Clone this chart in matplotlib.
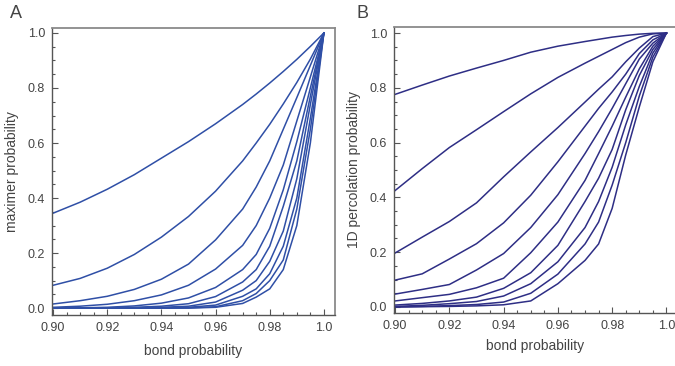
import matplotlib
matplotlib.use('Agg')
import matplotlib.pyplot as plt
from matplotlib.ticker import MultipleLocator, FixedLocator

plt.rcParams['font.family'] = ['Liberation Sans', 'DejaVu Sans']

# shared sample points of bond probability
bond = [0.90, 0.91, 0.92, 0.93, 0.94, 0.95, 0.96, 0.97, 0.975, 0.98, 0.985, 0.99, 0.995, 1.0]

# panel A: maximer probability, one list per curve
maxA1 = [0.345, 0.385, 0.432, 0.485, 0.545, 0.605, 0.670, 0.740, 0.778, 0.818, 0.860, 0.904, 0.951, 1.0]
maxA2 = [0.083, 0.108, 0.145, 0.195, 0.258, 0.333, 0.425, 0.535, 0.600, 0.668, 0.742, 0.820, 0.905, 1.0]
maxA3 = [0.015, 0.027, 0.043, 0.068, 0.105, 0.160, 0.248, 0.360, 0.440, 0.535, 0.650, 0.765, 0.882, 1.0]
maxA4 = [0.003, 0.007, 0.014, 0.027, 0.048, 0.083, 0.142, 0.228, 0.300, 0.400, 0.520, 0.680, 0.840, 1.0]
maxA5 = [0.0005, 0.001, 0.003, 0.008, 0.018, 0.037, 0.075, 0.140, 0.195, 0.290, 0.430, 0.605, 0.800, 1.0]
maxA6 = [0.0, 0.0, 0.001, 0.003, 0.007, 0.016, 0.042, 0.095, 0.140, 0.225, 0.370, 0.535, 0.770, 1.0]
maxA7 = [0.0, 0.0, 0.0, 0.001, 0.003, 0.007, 0.022, 0.065, 0.100, 0.170, 0.280, 0.470, 0.740, 1.0]
maxA8 = [0.0, 0.0, 0.0, 0.0, 0.001, 0.003, 0.011, 0.043, 0.070, 0.125, 0.225, 0.400, 0.690, 1.0]
maxA9 = [0.0, 0.0, 0.0, 0.0, 0.0, 0.001, 0.005, 0.027, 0.053, 0.100, 0.175, 0.360, 0.650, 1.0]
maxA10 = [0.0, 0.0, 0.0, 0.0, 0.0, 0.0, 0.003, 0.017, 0.040, 0.070, 0.140, 0.300, 0.600, 1.0]

# panel B: 1D percolation probability
percB1 = [0.776, 0.810, 0.843, 0.872, 0.900, 0.930, 0.952, 0.969, 0.977, 0.985, 0.991, 0.996, 0.999, 1.0]
percB2 = [0.425, 0.505, 0.582, 0.647, 0.713, 0.778, 0.838, 0.890, 0.915, 0.940, 0.965, 0.985, 0.997, 1.0]
percB3 = [0.197, 0.255, 0.312, 0.380, 0.475, 0.566, 0.655, 0.748, 0.795, 0.840, 0.895, 0.945, 0.987, 1.0]
percB4 = [0.098, 0.121, 0.175, 0.231, 0.307, 0.408, 0.530, 0.660, 0.725, 0.785, 0.850, 0.925, 0.975, 1.0]
percB5 = [0.047, 0.064, 0.082, 0.135, 0.195, 0.290, 0.410, 0.560, 0.640, 0.725, 0.815, 0.905, 0.963, 1.0]
percB6 = [0.022, 0.034, 0.046, 0.070, 0.105, 0.198, 0.310, 0.462, 0.560, 0.660, 0.766, 0.869, 0.952, 1.0]
percB7 = [0.007, 0.013, 0.022, 0.036, 0.068, 0.125, 0.225, 0.385, 0.470, 0.575, 0.720, 0.845, 0.940, 1.0]
percB8 = [0.002, 0.006, 0.012, 0.020, 0.040, 0.085, 0.165, 0.290, 0.385, 0.510, 0.665, 0.805, 0.927, 1.0]
percB9 = [0.0, 0.002, 0.005, 0.009, 0.018, 0.050, 0.120, 0.230, 0.310, 0.445, 0.600, 0.770, 0.912, 1.0]
percB10 = [0.0, 0.001, 0.002, 0.004, 0.008, 0.022, 0.085, 0.170, 0.230, 0.360, 0.555, 0.730, 0.895, 1.0]

curvesA = [maxA1, maxA2, maxA3, maxA4, maxA5, maxA6, maxA7, maxA8, maxA9, maxA10]
curvesB = [percB1, percB2, percB3, percB4, percB5, percB6, percB7, percB8, percB9, percB10]

W, H = 675, 366
fig = plt.figure(figsize=(W / 100, H / 100), dpi=100)

def px_axes(l, r, t, b):
    return fig.add_axes([l / W, 1 - b / H, (r - l) / W, (b - t) / H])

axA = px_axes(52, 335, 28, 315)
axB = px_axes(394, 680, 27, 313)

def style(ax, ylabel, color, curves, ylim):
    for c in curves:
        ax.plot(bond, c, color=color, lw=1.1)
    ax.set_xlim(0.8996, 1.0041)
    ax.set_ylim(*ylim)
    ax.xaxis.set_major_locator(FixedLocator([0.90, 0.92, 0.94, 0.96, 0.98, 1.0]))
    ax.set_xticklabels(['0.90', '0.92', '0.94', '0.96', '0.98', '1.0'])
    ax.xaxis.set_minor_locator(MultipleLocator(0.005))
    ax.yaxis.set_major_locator(MultipleLocator(0.2))
    ax.yaxis.set_minor_locator(MultipleLocator(0.05))
    ax.tick_params(which='both', direction='in', colors='#555555', labelcolor='#444444',
                   labelsize=9, width=0.8)
    ax.tick_params(which='major', length=4, pad=5)
    ax.tick_params(which='minor', length=2.5)
    for s in ['left', 'bottom']:
        ax.spines[s].set_color('#555555')
    for s in ['top', 'right']:
        ax.spines[s].set_color('#8a8a8a')
        ax.spines[s].set_linewidth(1.3)
    ax.spines['left'].set_linewidth(1.0)
    ax.spines['bottom'].set_linewidth(1.0)
    ax.set_xlabel('bond probability', fontsize=10, color='#444444', labelpad=7)
    ax.set_ylabel(ylabel, fontsize=10, color='#444444', labelpad=6)

style(axA, 'maximer probability', '#2f4fa6', curvesA, (-0.025, 1.018))
style(axB, '1D percolation probability', '#2e2e85', curvesB, (-0.022, 1.022))
axB.set_xlim(0.8996, 1.005)
axB.xaxis.set_label_coords((535 - 394) / 286, -0.09)

fig.text(10 / W, 1 - 14 / H, 'A', fontsize=13, color='#444444', va='center')
fig.text(357 / W, 1 - 14 / H, 'B', fontsize=13, color='#444444', va='center')

fig.savefig('out.png', dpi=100)
